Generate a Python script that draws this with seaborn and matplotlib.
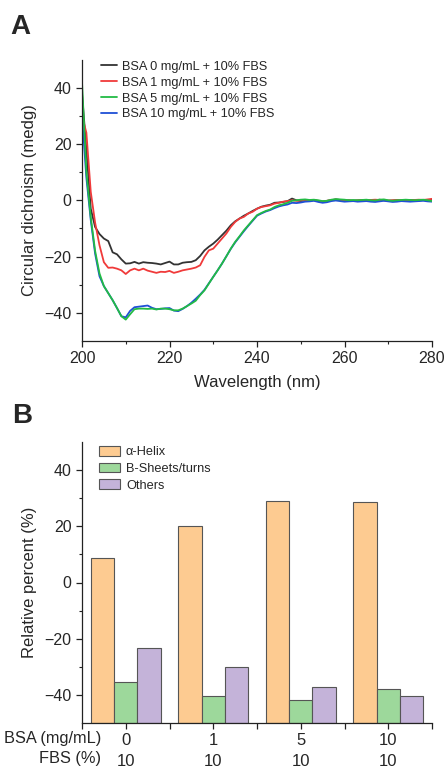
import numpy as np
import pandas as pd
import matplotlib
matplotlib.use("Agg")
import matplotlib.pyplot as plt
from matplotlib.patches import Patch
import seaborn as sns

# ---------------- Data ----------------
wavelength = list(range(200, 281))

cd_0 = [38, 18, -3, -9.5, -12, -13.6, -14.5, -18.5, -19.2, -21.0,
        -22.5, -22.4, -21.9, -22.5, -22.0, -22.2, -22.3, -22.5, -22.8, -22.3,
        -21.8, -22.8, -22.8, -22.2, -22.0, -21.9, -21.3, -19.8, -17.8, -16.5,
        -15.4, -14.0, -12.4, -10.8, -8.9, -7.5, -6.5, -5.5, -4.7, -3.8,
        -3.0, -2.3, -1.9, -1.6, -0.9, -0.8, -0.6, -0.3, 0.6, 0.0,
        -0.3, 0.0, -0.2, 0.1, -0.3, -0.5, -0.2, 0.0, 0.3, 0.1,
        -0.1, 0.0, -0.2, -0.1, 0.0, 0.1, -0.1, 0.0, 0.2, 0.0,
        -0.2, -0.1, 0.0, -0.1, 0.0, 0.1, 0.0, -0.1, 0.1, 0.0, 0.2]

cd_1 = [30, 24, 3, -8.0, -16.0, -22.0, -24.0, -23.9, -24.3, -24.9,
        -26.2, -24.9, -24.3, -24.9, -24.3, -25.0, -25.4, -25.8, -25.4, -25.5,
        -25.1, -25.8, -25.4, -24.9, -24.6, -24.3, -23.9, -23.1, -20.1, -17.8,
        -17.2, -15.4, -13.6, -11.8, -9.5, -7.7, -6.5, -5.9, -4.7, -4.1,
        -3.0, -2.4, -2.1, -1.8, -1.2, -0.9, -0.5, -0.3, 0.0, -0.2,
        -0.1, 0.1, -0.1, 0.0, -0.2, -0.4, -0.2, 0.1, 0.2, 0.1,
        0.0, -0.1, -0.2, 0.0, 0.1, 0.0, 0.1, 0.2, 0.1, 0.0,
        -0.1, 0.0, 0.1, 0.0, -0.1, 0.0, 0.1, 0.2, 0.1, 0.3, 0.5]

cd_5 = [42, 10, -6, -18, -26, -30.5, -33.0, -35.5, -38.3, -41.2,
        -42.4, -40.5, -38.7, -38.5, -38.5, -38.6, -38.5, -38.8, -38.5, -38.5,
        -38.7, -39.1, -39.1, -38.5, -37.6, -36.7, -35.7, -33.7, -32.0, -29.6,
        -27.2, -24.9, -22.5, -19.9, -17.2, -14.8, -12.8, -10.7, -8.9, -7.1,
        -5.3, -4.5, -3.8, -3.3, -2.4, -1.8, -1.4, -0.9, -0.2, 0.0,
        0.2, 0.3, 0.1, 0.2, 0.0, -0.3, -0.2, 0.2, 0.4, 0.3,
        0.2, 0.0, 0.1, 0.0, 0.1, 0.2, 0.0, -0.1, 0.2, 0.3,
        0.0, -0.2, 0.0, 0.1, 0.2, 0.1, 0.0, 0.1, 0.2, 0.0, -0.3]

cd_10 = [30, 8, -7, -19, -27, -30.5, -33.0, -35.5, -38.3, -41.2,
         -41.6, -39.3, -38.0, -37.8, -37.6, -37.4, -38.2, -38.7, -38.6, -38.4,
         -38.3, -39.2, -39.4, -38.6, -37.6, -36.4, -35.0, -33.5, -31.8, -29.5,
         -27.2, -24.9, -22.5, -19.9, -17.3, -15.0, -13.0, -11.0, -9.1, -7.3,
         -5.5, -4.7, -4.0, -3.5, -2.8, -2.2, -1.8, -1.5, -0.9, -1.0,
         -0.8, -0.5, -0.4, -0.2, -0.6, -0.9, -0.7, -0.3, -0.1, -0.3,
         -0.5, -0.4, -0.3, -0.5, -0.4, -0.3, -0.5, -0.6, -0.4, -0.2,
         -0.4, -0.6, -0.5, -0.3, -0.4, -0.5, -0.4, -0.3, -0.2, -0.4, -0.5]

series_labels = ["BSA 0 mg/mL + 10% FBS", "BSA 1 mg/mL + 10% FBS",
                 "BSA 5 mg/mL + 10% FBS", "BSA 10 mg/mL + 10% FBS"]
series_colors = ["#333333", "#f03a3a", "#22bb44", "#1f4fd6"]

bsa_labels = ["0", "1", "5", "10"]
fbs_labels = ["10", "10", "10", "10"]
structures = ["α-Helix", "B-Sheets/turns", "Others"]
alpha_helix = [8.7, 20.1, 29.0, 28.5]
beta_sheets = [-35.5, -40.3, -41.9, -38.0]
others = [-23.3, -30.0, -37.2, -40.4]
bar_colors = ["#fdcb91", "#9dd89b", "#c4b3d9"]
baseline = -50

# ---------------- Figure ----------------
sns.set_style("ticks")
plt.rcParams["font.family"] = ["Liberation Sans", "DejaVu Sans"]
plt.rcParams["xtick.direction"] = "out"
plt.rcParams["ytick.direction"] = "out"

fig = plt.figure(figsize=(4.47, 7.72), dpi=100)
axA = fig.add_axes([82/447, 1-341/772, 350/447, (341-59.5)/772])
axB = fig.add_axes([82/447, 1-723/772, 350/447, (723-442)/772])

# ---- Panel A ----
cd_series = [cd_0, cd_1, cd_5, cd_10]
draw_order = [0, 1, 3, 2]
lines = {}
for i in draw_order:
    df = pd.DataFrame({"wavelength": wavelength, "cd": cd_series[i]})
    sns.lineplot(data=df, x="wavelength", y="cd", ax=axA, color=series_colors[i],
                 lw=1.3, legend=False)
    lines[i] = axA.lines[-1]

axA.set_xlim(200, 280)
axA.set_ylim(-50, 50)
axA.set_xticks([200, 220, 240, 260, 280])
axA.set_xticks([210, 230, 250, 270], minor=True)
axA.set_yticks([-40, -20, 0, 20, 40])
axA.set_yticks([-30, -10, 10, 30], minor=True)
axA.tick_params(axis="both", which="major", labelsize=11.5, length=4, width=0.9, color="#222222")
axA.tick_params(axis="both", which="minor", length=2.5, width=0.8, color="#222222")
for s in ["top", "right"]:
    axA.spines[s].set_visible(False)
for s in ["left", "bottom"]:
    axA.spines[s].set_linewidth(0.9)
    axA.spines[s].set_color("#222222")
axA.set_xlabel("Wavelength (nm)", fontsize=12, labelpad=6)
axA.set_ylabel("Circular dichroism (medg)", fontsize=12, labelpad=5)

axA.legend([lines[i] for i in range(4)], series_labels, loc="upper left",
           bbox_to_anchor=(0.055, 0.995), frameon=False, fontsize=9.2,
           handlelength=1.2, handletextpad=0.45, labelspacing=0.3,
           borderpad=0, borderaxespad=0)

# ---- Panel B ----
dfB = pd.DataFrame({
    "group": np.repeat(bsa_labels, 3),
    "structure": structures * 4,
    "value": [v for trip in zip(alpha_helix, beta_sheets, others) for v in trip],
})
dfB["height"] = dfB["value"] - baseline
sns.barplot(data=dfB, x="group", y="height", hue="structure", order=bsa_labels,
            hue_order=structures, palette=bar_colors, ax=axB, width=0.8,
            errorbar=None, saturation=1, edgecolor="#555555", linewidth=0.8,
            bottom=baseline, legend=False)

axB.set_xlim(-0.5, 3.5)
axB.set_ylim(-50, 50)
axB.set_yticks([-40, -20, 0, 20, 40])
axB.set_yticks([-30, -10, 10, 30], minor=True)
axB.set_xticks(range(4))
axB.set_xticklabels([f"{b}\n{f}" for b, f in zip(bsa_labels, fbs_labels)],
                    linespacing=1.45)
axB.set_xticks([-0.5, 0.5, 1.5, 2.5, 3.5], minor=True)
axB.tick_params(axis="both", which="major", labelsize=12, length=4, width=0.9, color="#222222")
axB.tick_params(axis="y", which="major", labelsize=11.5)
axB.tick_params(axis="both", which="minor", length=4, width=0.9, color="#222222")
axB.tick_params(axis="y", which="minor", length=2.5, width=0.8)
for s in ["top", "right"]:
    axB.spines[s].set_visible(False)
for s in ["left", "bottom"]:
    axB.spines[s].set_linewidth(0.9)
    axB.spines[s].set_color("#222222")
axB.set_xlabel("")
axB.set_ylabel("Relative percent (%)", fontsize=12, labelpad=5)

handles = [Patch(facecolor=c, edgecolor="#555555", linewidth=0.8) for c in bar_colors]
axB.legend(handles, structures, loc="upper left", bbox_to_anchor=(0.049, 0.985),
           frameon=False, fontsize=9.2, handlelength=1.6, handleheight=0.75,
           handletextpad=0.5, labelspacing=0.35, borderpad=0, borderaxespad=0)

fig.text(101/447, 1-731/772, "BSA (mg/mL)\nFBS (%)", ha="right", va="top",
         fontsize=11.8, linespacing=1.4, multialignment="right")

fig.text(10/447, 1-14/772, "A", fontsize=20, fontweight="bold", va="top", ha="left")
fig.text(12/447, 1-403/772, "B", fontsize=20, fontweight="bold", va="top", ha="left")

fig.savefig("out.png", dpi=100)
